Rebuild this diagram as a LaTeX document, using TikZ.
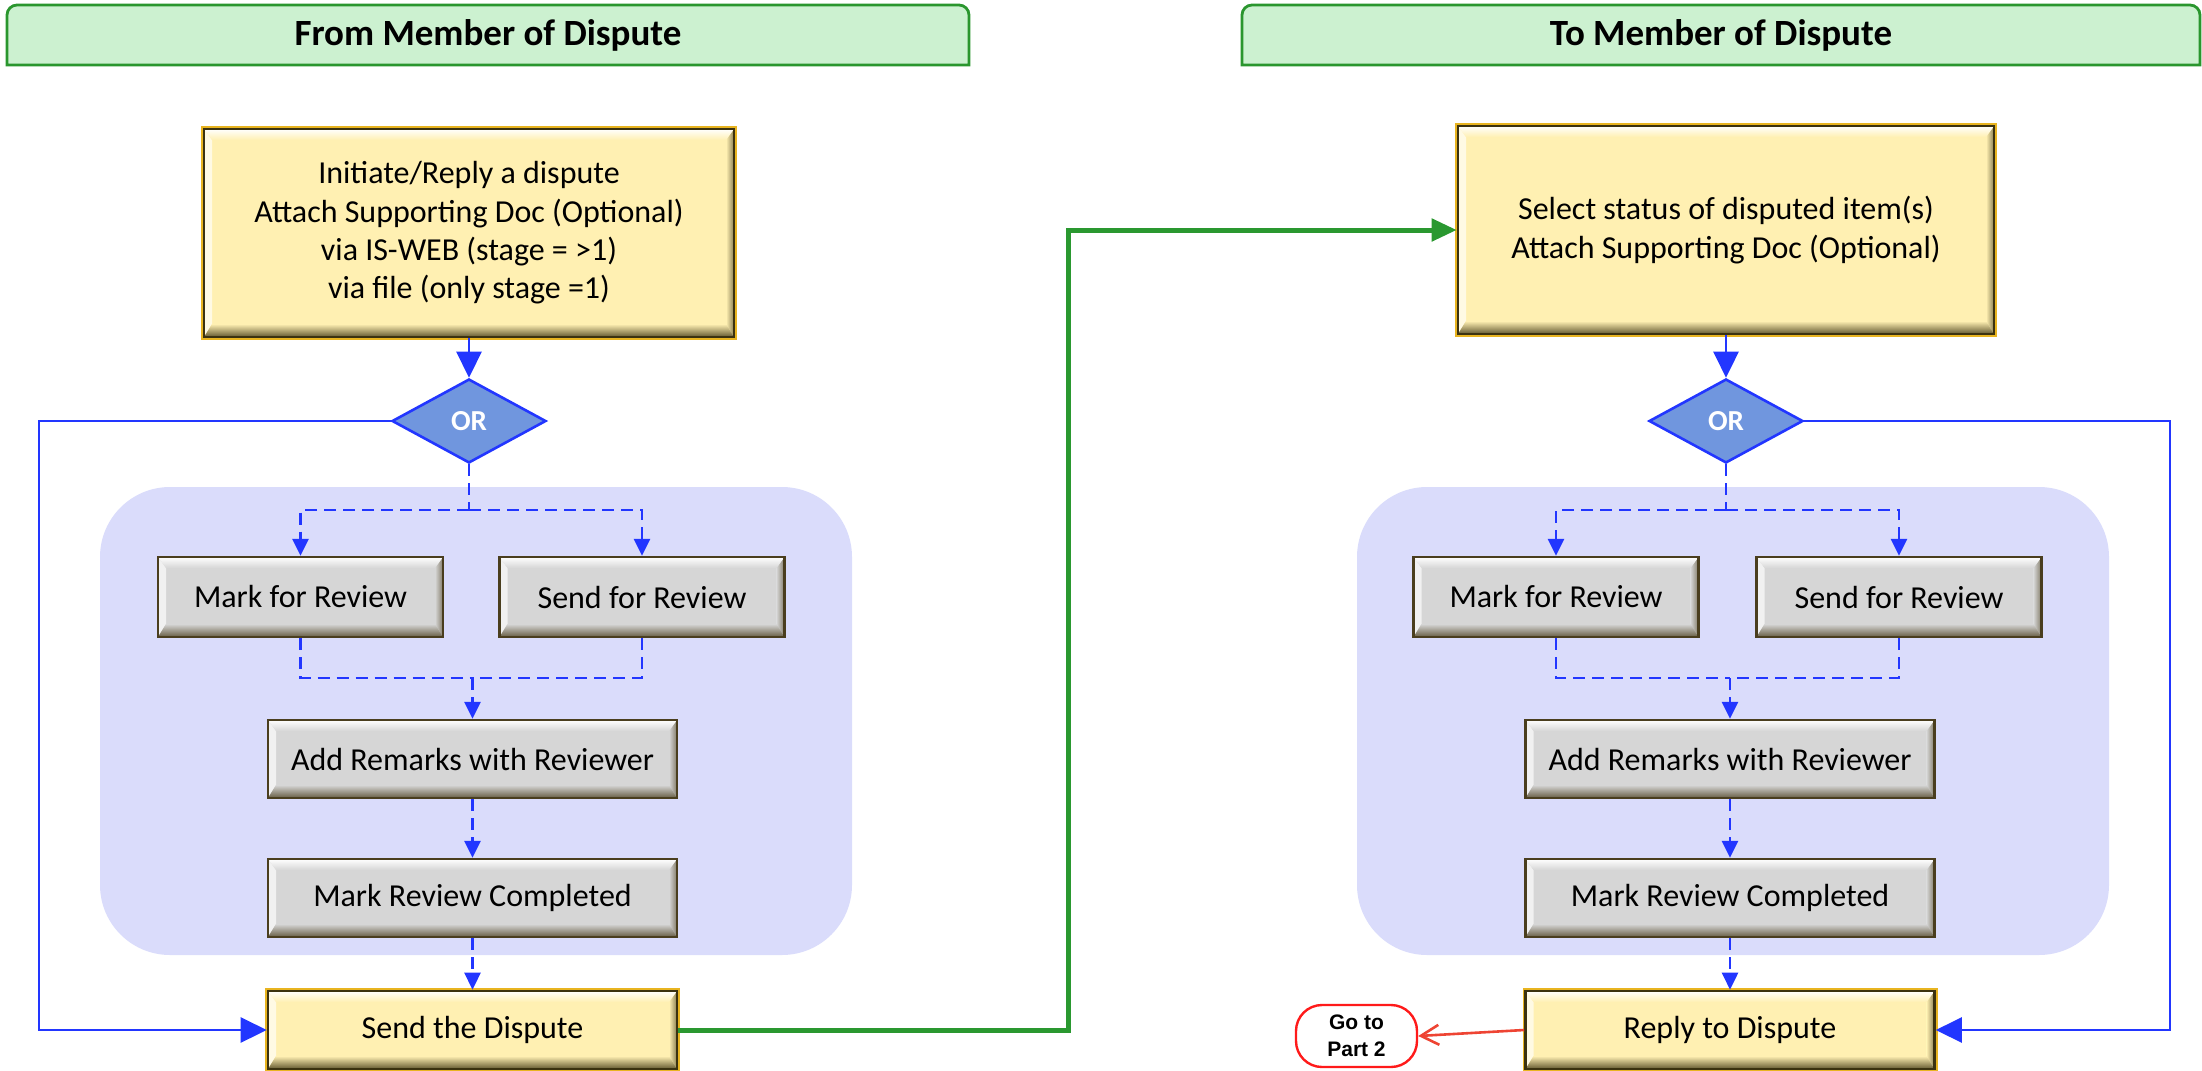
\documentclass[tikz,border=0pt]{standalone}
\usepackage{fontspec}
\setmainfont{Carlito}
\newfontfamily\arialfnt{Liberation Sans}
\usetikzlibrary{arrows.meta,shapes.geometric,calc}
\definecolor{hdrfill}{HTML}{CCF1D0}
\definecolor{hdrline}{HTML}{2A962E}
\definecolor{lav}{HTML}{DADCFB}
\definecolor{bl}{HTML}{2236FF}
\definecolor{dmfill}{HTML}{7096DE}
\definecolor{grn}{HTML}{2A9830}
\definecolor{ylw}{HTML}{FFF0B2}
\definecolor{ydark}{HTML}{3B3210}
\definecolor{yorange}{HTML}{E8B420}
\definecolor{gry}{HTML}{D6D6D6}
\definecolor{gdark}{HTML}{4A3E1E}
\definecolor{redar}{HTML}{EE4433}
\definecolor{redbd}{HTML}{FF1A1A}
\newcommand\bfnt{\fontsize{16}{19.2}\selectfont}
\begin{document}
\begin{tikzpicture}[x=0.5pt,y=-0.5pt,
 bevel/.style 2 args={fill=#1, path picture={
   \coordinate (pnw) at (path picture bounding box.north west);
   \coordinate (pne) at (path picture bounding box.north east);
   \coordinate (psw) at (path picture bounding box.south west);
   \coordinate (pse) at (path picture bounding box.south east);
   \fill[#1!35!white] (pnw) -- ([shift={(4pt,-5.5pt)}]pnw) -- ([shift={(4pt,6.5pt)}]psw) -- (psw) -- cycle;
   \shade[left color=#1, right color=#2!60!#1] (pne) -- ([shift={(-4pt,-5.5pt)}]pne) -- ([shift={(-4pt,6.5pt)}]pse) -- (pse) -- cycle;
   \shade[top color=white, bottom color=#1] (pnw) -- (pne) -- ([shift={(-4pt,-5.5pt)}]pne) -- ([shift={(4pt,-5.5pt)}]pnw) -- cycle;
   \shade[top color=#1, bottom color=#2!80!#1] (psw) -- (pse) -- ([shift={(-4pt,6.5pt)}]pse) -- ([shift={(4pt,6.5pt)}]psw) -- cycle;
 }},
 gbox/.style={draw=gdark, line width=1.2pt, bevel={gry}{gdark}, minimum width=142.5pt, minimum height=40pt, inner sep=0pt, font=\bfnt, align=center},
 ybox/.style={draw=ydark, line width=1.3pt, preaction={draw=yorange, line width=3pt}, bevel={ylw}{ydark}, minimum width=204.5pt, minimum height=39pt, inner sep=0pt, font=\bfnt, align=center},
 wide/.style={minimum width=204.5pt, minimum height=39pt},
 ornode/.style={diamond, aspect=1.83, draw=bl, line width=1.3pt, fill=dmfill, minimum width=77pt, minimum height=42pt, inner sep=0pt, text=white, font=\fontsize{14.5}{16}\selectfont\bfseries},
 hdr/.style={draw=hdrline, line width=1.4pt, fill=hdrfill},
 hdrtext/.style={font=\fontsize{18.5}{21}\selectfont\bfseries},
 gotonode/.style={draw=redbd, line width=1.2pt, fill=white, rounded corners=13pt, minimum width=60.5pt, minimum height=31pt, inner sep=0pt, align=center, font=\arialfnt\bfseries\fontsize{10.5}{13.5}\selectfont},
 bsolid/.style={draw=bl, line width=1.3pt, -{Triangle[length=13pt,width=12.5pt]}},
 bline/.style={draw=bl, line width=1.3pt, dash pattern=on 6pt off 3.5pt},
 bdasharr/.style={bline, -{Triangle[length=8.5pt,width=8pt]}},
 grnarr/.style={draw=grn, line width=2.5pt, -{Triangle[length=12.5pt,width=11pt]}},
 redarr/.style={draw=redar, line width=1.3pt, -{Straight Barb[length=9pt,width=10pt]}}
]
\useasboundingbox (0,0) rectangle (2202,1071);
% headers
\draw[hdr] (7,65) -- (7,15) arc[start angle=180,end angle=90,radius=5pt] -- (959,5) arc[start angle=90,end angle=0,radius=5pt] -- (969,65) -- cycle;
\draw[hdr] (1242,65) -- (1242,15) arc[start angle=180,end angle=90,radius=5pt] -- (2190,5) arc[start angle=90,end angle=0,radius=5pt] -- (2200,65) -- cycle;
\node[hdrtext] (hdrL) at (488,35) {From Member of Dispute};
\node[hdrtext] (hdrR) at (1721,35) {To Member of Dispute};
% lavender groups
\fill[lav, rounded corners=35pt] (100,487) rectangle (852,955);
\fill[lav, rounded corners=35pt] (1357,487) rectangle (2109,955);
% left column
\node[ybox, minimum width=265pt, minimum height=104pt] (topL) at (469,233) {Initiate/Reply a dispute\\Attach Supporting Doc (Optional)\\via IS-WEB (stage = >1)\\via file (only stage =1)};
\node[ornode] (orL) at (469,421) {OR};
\node[gbox] (markL) at (300.5,597) {Mark for Review};
\node[gbox] (srevL) at (642,597) {Send for Review};
\node[gbox, wide] (addL) at (472.5,759) {Add Remarks with Reviewer};
\node[gbox, wide] (doneL) at (472.5,898) {Mark Review Completed};
\node[ybox] (sendL) at (472.5,1030) {Send the Dispute};
% right column
\node[ybox, minimum width=268pt, minimum height=104pt] (topR) at (1726,230) {Select status of disputed item(s)\\Attach Supporting Doc (Optional)};
\node[ornode] (orR) at (1726,421) {OR};
\node[gbox] (markR) at (1556,597) {Mark for Review};
\node[gbox] (srevR) at (1899,597) {Send for Review};
\node[gbox, wide] (addR) at (1730,759) {Add Remarks with Reviewer};
\node[gbox, wide] (doneR) at (1730,898) {Mark Review Completed};
\node[ybox] (replyR) at (1730,1030) {Reply to Dispute};
\node[gotonode] (goto) at (1356.5,1036) {Go to\\Part 2};
% helper coordinates
\coordinate (cL) at (39,421);
\coordinate (splitL) at (469,510);
\coordinate (mergeL) at (472.5,678);
\coordinate (gA) at (1068,1030);
\coordinate (cR) at (2170,421);
\coordinate (splitR) at (1726,510);
\coordinate (mergeR) at (1730,678);
% left connectors
\draw[bsolid] (topL.south) -- (orL.north);
\draw[bsolid] (orL.west) -- (cL) |- (sendL.west);
\draw[bline] (orL.south) -- (splitL);
\draw[bdasharr] (splitL) -| (markL.north);
\draw[bdasharr] (splitL) -| (srevL.north);
\draw[bline] (markL.south) |- (mergeL);
\draw[bline] (srevL.south) |- (mergeL);
\draw[bdasharr] (mergeL) -- (addL.north);
\draw[bdasharr] (addL.south) -- (doneL.north);
\draw[bdasharr] (doneL.south) -- (sendL.north);
% cross connector
\draw[grnarr] (sendL.east) -- (gA) |- (topR.west);
% right connectors
\draw[bsolid] (topR.south) -- (orR.north);
\draw[bsolid] (orR.east) -- (cR) |- (replyR.east);
\draw[bline] (orR.south) -- (splitR);
\draw[bdasharr] (splitR) -| (markR.north);
\draw[bdasharr] (splitR) -| (srevR.north);
\draw[bline] (markR.south) |- (mergeR);
\draw[bline] (srevR.south) |- (mergeR);
\draw[bdasharr] (mergeR) -- (addR.north);
\draw[bdasharr] (addR.south) -- (doneR.north);
\draw[bdasharr] (doneR.south) -- (replyR.north);
\draw[redarr] (replyR.west) -- (goto.east);
\end{tikzpicture}
\end{document}
